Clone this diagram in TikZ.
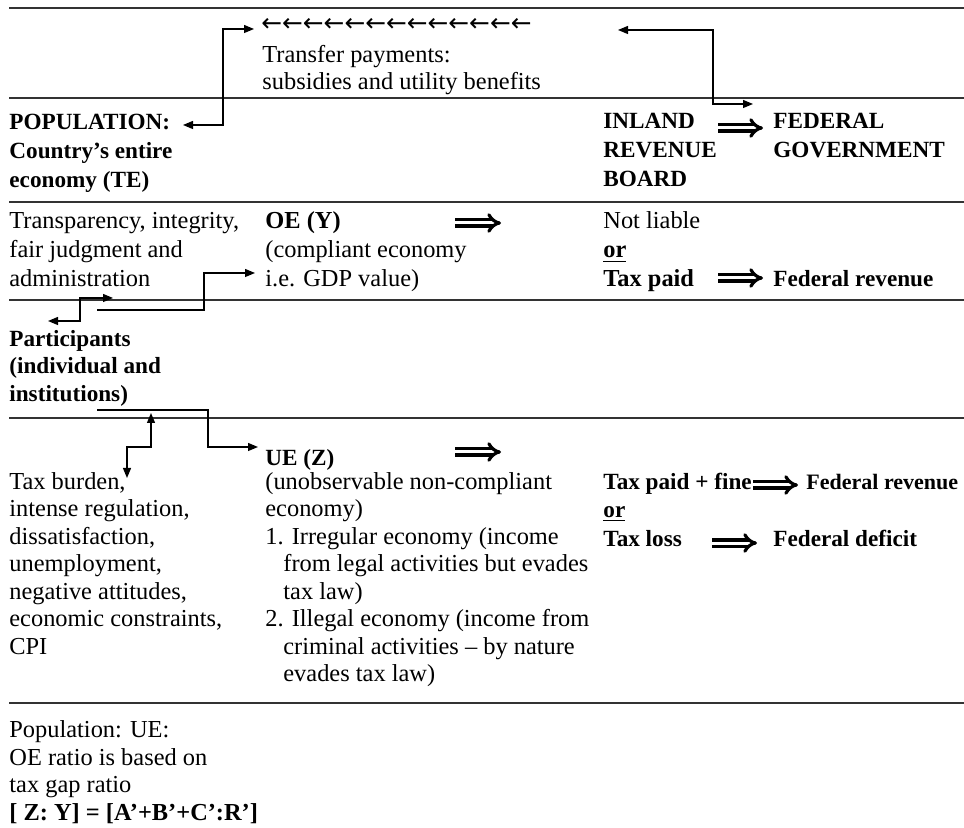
\documentclass[tikz,border=0pt]{standalone}
\usepackage{fontspec}
\setmainfont{Liberation Serif}
\newfontfamily\arrowfont{DejaVu Sans}
\usetikzlibrary{arrows.meta}

\tikzset{
  rule/.style={line width=0.7pt, black!80},
  txt/.style={anchor=base west, inner sep=0pt, align=left, font=\fontsize{12.2}{13.75}\selectfont},
  txtwide/.style={txt, font=\fontsize{12.2}{14.5}\selectfont},
  bold/.style={txt, font=\fontsize{11.6}{14.5}\selectfont\bfseries},
  link/.style={line width=0.6pt, -{Triangle[length=5pt,width=4pt]}},
  links/.style={line width=0.6pt, {Triangle[length=5pt,width=4pt]}-{Triangle[length=5pt,width=4pt]}},
  implies/.style={line width=1.6pt, double distance=1.5pt, -{Implies[scale=1.3]}},
}

\begin{document}
\begin{tikzpicture}[x=0.5pt, y=-0.5pt]
  \useasboundingbox (0,0) rectangle (964,828);

  % table rules
  \foreach \y in {8,98,202,300,418,703}
    \draw[rule] (9,\y) -- (964,\y);

  % transfer payments row (nodes sit on the baseline of their last line)
  \node[txt, anchor=west, font=\fontsize{12.4}{14}\arrowfont] (back) at (261,25) {←←←←←←←←←←←←←};
  \node[txt] (transfer) at (262,90) {Transfer payments:\\subsidies and utility benefits};

  % population row
  \node[bold] (pop) at (9,188) {POPULATION:\\Country’s entire\\economy (TE)};
  \node[bold] (irb) at (603,187) {INLAND\\REVENUE\\BOARD};
  \node[bold] (fedgov) at (773,158) {FEDERAL\\GOVERNMENT};

  % observed economy row
  \node[txtwide] (fair) at (9,287) {Transparency, integrity,\\fair judgment and\\administration};
  \node[txtwide] (oe) at (265,287) {\textbf{OE (Y)}\\(compliant economy\\i.e. GDP value)};
  \node[txtwide] (liable) at (603,287) {Not liable\\\textbf{\underline{or}}\\\textbf{Tax paid}};
  \node[bold] (fedrev) at (773,287) {Federal revenue};

  % participants
  \node[bold, font=\fontsize{11.6}{14}\selectfont\bfseries] (part) at (9,402) {Participants\\(individual and\\institutions)};

  % unobserved economy row
  \node[bold] (ue) at (265,466) {UE (Z)};
  \node[txt] (uetext) at (265,681.5) {(unobservable non-compliant\\economy)\\1. Irregular economy (income\\\hspace*{9pt}from legal activities but evades\\\hspace*{9pt}tax law)\\2. Illegal economy (income from\\\hspace*{9pt}criminal activities – by nature\\\hspace*{9pt}evades tax law)};
  \node[txt] (burden) at (9,654) {Tax burden,\\intense regulation,\\dissatisfaction,\\unemployment,\\negative attitudes,\\economic constraints,\\CPI};
  \node[bold, font=\fontsize{11.6}{14.25}\selectfont\bfseries] (taxfine) at (603,546) {Tax paid + fine\\\underline{or}\\Tax loss};
  \node[bold, font=\fontsize{11}{14}\selectfont\bfseries] (fedrev2) at (806,489) {Federal revenue};
  \node[bold] (fedef) at (773,546) {Federal deficit};

  % ratio
  \node[txt] (ratio) at (9,820) {Population: UE:\\OE ratio is based on\\tax gap ratio\\\textbf{[ Z: Y] = [A’+B’+C’:R’]}};

  % elbow connectors
  \coordinate (popA) at (183,125);
  \coordinate (backA) at (254,29);
  \coordinate (backB) at (618,30);
  \coordinate (fedA) at (753,104);
  \coordinate (partA) at (48,321);
  \coordinate (fairA) at (113,298);
  \coordinate (partB) at (97,310);
  \coordinate (oeA) at (255,273);
  \coordinate (partC) at (97,410);
  \coordinate (ueA) at (258,447);
  \coordinate (partD) at (151,413);
  \coordinate (burdenA) at (127,478);

  \draw[links] (popA) -- ++(40,0) |- (backA);
  \draw[links] (backB) -- ++(95,0) |- (fedA);
  \draw[links] (partA) -- ++(32,0) |- (fairA);
  \draw[link] (partB) -- ++(107,0) |- (oeA);
  \draw[link] (partC) -- ++(111,0) |- (ueA);
  \draw[links] (partD) -- ++(0,34) -| (burdenA);

  % implication arrows
  \foreach \n/\xa/\xb/\y in {a/718/763/128, b/455/501/223, c/718/763/278,
                             d/455/501/452, e/753/798/485, f/712/757/543} {
    \coordinate (imp\n s) at (\xa,\y);
    \coordinate (imp\n e) at (\xb,\y);
    \draw[implies] (imp\n s) -- (imp\n e);
  }
\end{tikzpicture}
\end{document}
